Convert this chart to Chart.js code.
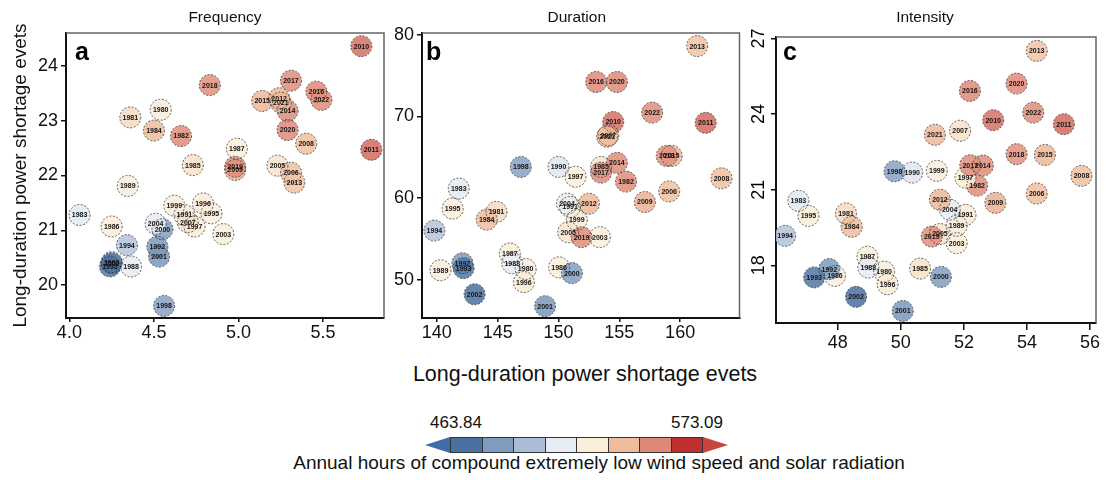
<!DOCTYPE html>
<html>
<head>
<meta charset="utf-8">
<script src="https://cdn.jsdelivr.net/npm/chart.js@4.4.1/dist/chart.umd.min.js"></script>
<style>
  body { margin: 0; background: #fff; font-family: "Liberation Sans", Arial, sans-serif; }
  #wrap { position: relative; width: 1108px; height: 480px; overflow: hidden; background: #fff; }
  #wrap canvas { position: absolute; top: 0; }
  .txt { position: absolute; white-space: nowrap; color: #111; transform: translateX(-50%); }
  #bins { position: absolute; left: 450px; top: 437px; width: 253px; height: 16px; display: flex; box-sizing: border-box; border: 1px solid #333; }
  #bins div { flex: 1; border-right: 1px solid #333; }
  #bins div:last-child { border-right: none; }
  .arrow { position: absolute; top: 437px; width: 0; height: 0; border-top: 8px solid transparent; border-bottom: 8px solid transparent; }
</style>
</head>
<body>
<div id="wrap">
  <canvas id="chartA" width="395" height="350" style="left:0px"></canvas>
  <canvas id="chartB" width="355" height="350" style="left:395px"></canvas>
  <canvas id="chartC" width="358" height="355" style="left:750px"></canvas>

  <div class="txt" style="left:585px; top:362px; font-size:21.5px;">Long-duration power shortage evets</div>

  <div class="txt" style="left:456px; top:413px; font-size:17px;">463.84</div>
  <div class="txt" style="left:697px; top:413px; font-size:17px;">573.09</div>
  <div class="arrow" id="arrL" style="left:425px;"></div>
  <div id="bins"></div>
  <div class="arrow" id="arrR" style="left:703px;"></div>
  <div class="txt" style="left:599px; top:452px; font-size:19px;">Annual hours of compound extremely low wind speed and solar radiation</div>
</div>

<script>
// ---- data ----
const years = [1980, 1981, 1982, 1983, 1984, 1985, 1986, 1987, 1988, 1989,
               1990, 1991, 1992, 1993, 1994, 1995, 1996, 1997, 1998, 1999,
               2000, 2001, 2002, 2003, 2004, 2005, 2006, 2007, 2008, 2009,
               2010, 2011, 2012, 2013, 2014, 2015, 2016, 2017, 2018, 2019,
               2020, 2021, 2022];

const hours = [524, 531, 551, 511, 539, 529, 525, 525, 512, 524,
               510, 526, 484, 473, 500, 525, 526, 525, 487, 524,
               485, 483, 470, 525, 513, 528, 538, 529, 538, 542,
               556, 557, 540, 537, 551, 540, 552, 551, 550, 551,
               552, 540, 551];

// panel a - frequency
const freqX = [4.54, 4.36, 4.66, 4.06, 4.50, 4.73, 4.25, 4.99, 4.365, 4.345,
               4.25, 4.68, 4.52, 4.24, 4.34, 4.84, 4.79, 4.74, 4.56, 4.62,
               4.55, 4.53, 4.25, 4.91, 4.51, 5.23, 5.31, 4.70, 5.40, 4.98,
               5.726, 5.785, 5.24, 5.33, 5.29, 5.14, 5.46, 5.31, 4.83, 4.98,
               5.29, 5.25, 5.49];
const freqY = [23.20, 23.06, 22.72, 21.28, 22.82, 22.19, 21.07, 22.49, 20.34, 21.81,
               20.42, 21.28, 20.70, 20.34, 20.73, 21.31, 21.49, 21.07, 19.62, 21.45,
               21.02, 20.52, 20.40, 20.93, 21.12, 22.18, 22.05, 21.15, 22.58, 22.10,
               24.36, 22.47, 23.41, 21.87, 23.18, 23.36, 23.53, 23.73, 23.65, 22.16,
               22.83, 23.33, 23.38];

// panel b - duration
const durX = [147.3, 144.9, 155.55, 141.8, 144.1, 153.5, 150.05, 146.0, 146.2, 140.3,
              150.0, 150.95, 142.1, 142.2, 139.8, 141.3, 147.15, 151.4, 146.9, 151.5,
              151.1, 148.9, 143.1, 153.4, 150.7, 150.8, 159.1, 154.1, 163.4, 157.1,
              154.5, 162.1, 152.5, 161.4, 154.8, 159.3, 153.1, 153.5, 158.9, 151.9,
              154.8, 154.0, 157.7];
const durY = [51.3, 58.3, 62.0, 61.15, 57.35, 63.8, 51.5, 53.2, 52.0, 51.15,
              63.8, 58.9, 52.0, 51.4, 56.0, 58.7, 49.7, 62.6, 63.8, 57.3,
              50.8, 46.75, 48.2, 55.2, 59.3, 55.8, 60.8, 67.7, 62.4, 59.5,
              69.3, 69.2, 59.3, 78.6, 64.3, 65.15, 74.2, 63.1, 65.15, 55.2,
              74.2, 67.5, 70.45];

// panel c - intensity
const intX = [49.47, 48.26, 52.42, 46.75, 48.44, 50.61, 47.91, 48.94, 48.97, 51.77,
              50.36, 52.05, 47.73, 47.25, 46.33, 47.07, 49.58, 52.05, 49.80, 51.14,
              51.27, 50.06, 48.58, 51.77, 51.55, 51.24, 54.31, 51.88, 55.73, 53.00,
              52.93, 55.17, 51.24, 54.31, 52.60, 54.57, 52.19, 52.20, 53.67, 50.98,
              53.67, 51.08, 54.20];
const intY = [17.75, 20.06, 21.16, 20.56, 19.53, 17.87, 17.58, 18.34, 17.91, 19.57,
              21.68, 20.00, 17.85, 17.52, 19.17, 19.96, 17.25, 21.48, 21.73, 21.75,
              17.54, 16.19, 16.75, 18.88, 20.21, 19.24, 20.85, 23.34, 21.55, 20.48,
              23.76, 23.60, 20.60, 26.51, 21.96, 22.38, 24.92, 21.97, 22.41, 19.14,
              25.21, 23.18, 24.06];

// tick labels
const freqTicksX = [4.0, 4.5, 5.0, 5.5];
const freqTicksY = [20, 21, 22, 23, 24];
const durTicksX = [140, 145, 150, 155, 160];
const durTicksY = [50, 60, 70, 80];
const intTicksX = [48, 50, 52, 54, 56];
const intTicksY = [18, 21, 24, 27];

// colour bar
const hoursMin = 463.84;
const hoursMax = 573.09;
const binColors = ['#4a71a0', '#7f9cbf', '#abbdd6', '#e6ecf4', '#fbeed9', '#efbd9c', '#de8877', '#be2f2e'];

// ---- colours ----
function hexToRgb(h) {
  return [parseInt(h.slice(1, 3), 16), parseInt(h.slice(3, 5), 16), parseInt(h.slice(5, 7), 16)];
}
function colorFor(h) {
  const step = (hoursMax - hoursMin) / binColors.length;
  let t = (h - hoursMin) / step - 0.5;
  t = Math.max(0, Math.min(binColors.length - 1, t));
  const i = Math.min(binColors.length - 2, Math.floor(t));
  const f = t - i;
  const a = hexToRgb(binColors[i]), b = hexToRgb(binColors[i + 1]);
  const c = a.map((v, k) => Math.round(v + (b[k] - v) * f));
  return 'rgba(' + c[0] + ',' + c[1] + ',' + c[2] + ',0.86)';
}
const pointColors = hours.map(colorFor);

// colour bar in html
const binsEl = document.getElementById('bins');
binColors.forEach(c => {
  const d = document.createElement('div');
  d.style.background = c;
  binsEl.appendChild(d);
});
document.getElementById('arrL').style.borderRight = '25px solid #3f6ca6';
document.getElementById('arrR').style.borderLeft = '25px solid #c9443c';

// ---- plugins ----
const FONT = '"Liberation Sans", Arial, sans-serif';
const R = 10.5;

const pointLabels = {
  id: 'pointLabels',
  afterDatasetsDraw(chart) {
    const ctx = chart.ctx;
    const meta = chart.getDatasetMeta(0);
    ctx.save();
    ctx.beginPath();
    ctx.rect(chart.chartArea.left, chart.chartArea.top, chart.chartArea.width, chart.chartArea.height);
    ctx.clip();
    meta.data.forEach((pt, i) => {
      ctx.beginPath();
      ctx.setLineDash([2, 1.6]);
      ctx.arc(pt.x, pt.y, R, 0, Math.PI * 2);
      ctx.strokeStyle = '#3a3a3a';
      ctx.lineWidth = 0.8;
      ctx.stroke();
      ctx.setLineDash([]);
      ctx.fillStyle = '#151515';
      ctx.font = 'bold 7px ' + FONT;
      ctx.textAlign = 'center';
      ctx.textBaseline = 'middle';
      ctx.fillText(String(years[i]), pt.x, pt.y + 0.5);
    });
    ctx.restore();
  }
};

const frame = {
  id: 'frame',
  afterDraw(chart, args, opts) {
    const {ctx, chartArea: ca} = chart;
    ctx.save();
    // top and right edges
    ctx.strokeStyle = '#666';
    ctx.lineWidth = 1.5;
    ctx.beginPath();
    ctx.moveTo(ca.left, ca.top);
    ctx.lineTo(ca.right, ca.top);
    ctx.lineTo(ca.right, ca.bottom);
    ctx.stroke();
    // panel title
    ctx.fillStyle = '#111';
    ctx.font = '15.5px ' + FONT;
    ctx.textAlign = 'center';
    ctx.textBaseline = 'middle';
    ctx.fillText(opts.title, (ca.left + ca.right) / 2 + opts.titleDX, opts.titleY);
    // panel letter
    ctx.fillStyle = '#000';
    ctx.font = 'bold 25px ' + FONT;
    ctx.textAlign = 'left';
    ctx.textBaseline = 'alphabetic';
    ctx.fillText(opts.letter, ca.left + opts.letterX, 60);
    // rotated y tick labels (panel c)
    if (opts.rotY) {
      const sc = chart.scales.y;
      ctx.font = '18px ' + FONT;
      ctx.textAlign = 'center';
      ctx.textBaseline = 'middle';
      opts.rotY.forEach(v => {
        ctx.save();
        ctx.translate(opts.rotX, sc.getPixelForValue(v));
        ctx.rotate(-Math.PI / 2);
        ctx.fillText(String(v), 0, 1);
        ctx.restore();
      });
    }
    ctx.restore();
  }
};

// ---- charts ----
function makePanel(id, p) {
  const pts = years.map((yr, i) => ({x: p.xs[i], y: p.ys[i]}));
  return new Chart(document.getElementById(id), {
    type: 'scatter',
    data: {
      datasets: [{
        data: pts,
        backgroundColor: pointColors,
        borderWidth: 0,
        pointRadius: R,
        pointHoverRadius: R
      }]
    },
    options: {
      responsive: false,
      animation: false,
      events: [],
      layout: { padding: { left: 0, right: p.padRight, top: p.padTop, bottom: 0 } },
      plugins: {
        legend: { display: false },
        tooltip: { enabled: false },
        title: { display: false },
        frame: { letter: p.letter, letterX: p.letterX, rotY: p.rotY, rotX: p.rotX,
                 title: p.title, titleDX: p.titleDX, titleY: p.titleY }
      },
      scales: {
        x: {
          type: 'linear',
          min: p.xMin, max: p.xMax,
          afterBuildTicks: s => { s.ticks = p.xTicks.map(v => ({value: v})); },
          afterFit: s => { s.height = p.xH; },
          border: { color: '#111', width: 2 },
          grid: { drawOnChartArea: false, drawTicks: true, tickLength: p.xTickLen, color: '#111', lineWidth: 1.5 },
          ticks: {
            color: '#111', padding: p.xTickPad,
            font: { family: FONT, size: 18 },
            callback: v => p.xFmt(v)
          }
        },
        y: {
          type: 'linear',
          min: p.yMin, max: p.yMax,
          afterBuildTicks: s => { s.ticks = p.yTicks.map(v => ({value: v})); },
          afterFit: s => { s.width = p.yW; },
          border: { color: '#111', width: 2 },
          grid: { drawOnChartArea: false, drawTicks: true, tickLength: 5, color: '#111', lineWidth: 1.5 },
          title: p.yTitle ? {
            display: true,
            text: p.yTitle,
            color: '#111',
            font: { family: FONT, size: 19 },
            padding: { top: 9, bottom: 0 }
          } : { display: false },
          ticks: {
            display: !p.rotY,
            color: '#111', padding: 3,
            font: { family: FONT, size: 18 }
          }
        }
      }
    },
    plugins: [pointLabels, frame]
  });
}

makePanel('chartA', {
  xs: freqX, ys: freqY,
  xMin: 3.98, xMax: 5.86, yMin: 19.4, yMax: 24.6,
  xTicks: freqTicksX, yTicks: freqTicksY,
  xFmt: v => v.toFixed(1),
  title: 'Frequency', titleDX: 0, titleY: 18,
  letter: 'a', letterX: 9,
  yW: 66, xH: 32, padRight: 11, padTop: 33, xTickLen: 4, xTickPad: 0,
  yTitle: 'Long-duration power shortage evets'
});

makePanel('chartB', {
  xs: durX, ys: durY,
  xMin: 138.78, xMax: 164.88, yMin: 45.3, yMax: 80.2,
  xTicks: durTicksX, yTicks: durTicksY,
  xFmt: v => String(v),
  title: 'Duration', titleDX: -4, titleY: 18,
  letter: 'b', letterX: 4,
  yW: 27, xH: 32, padRight: 7, padTop: 33, xTickLen: 4, xTickPad: 0
});

makePanel('chartC', {
  xs: intX, ys: intY,
  xMin: 46.04, xMax: 56.19, yMin: 15.71, yMax: 27.06,
  xTicks: intTicksX, yTicks: intTicksY,
  xFmt: v => String(v),
  title: 'Intensity', titleDX: -11, titleY: 18,
  letter: 'c', letterX: 7,
  yW: 26, xH: 32, padRight: 12, padTop: 37, xTickLen: 7, xTickPad: 2,
  rotY: intTicksY, rotX: 8
});
</script>
</body>
</html>
